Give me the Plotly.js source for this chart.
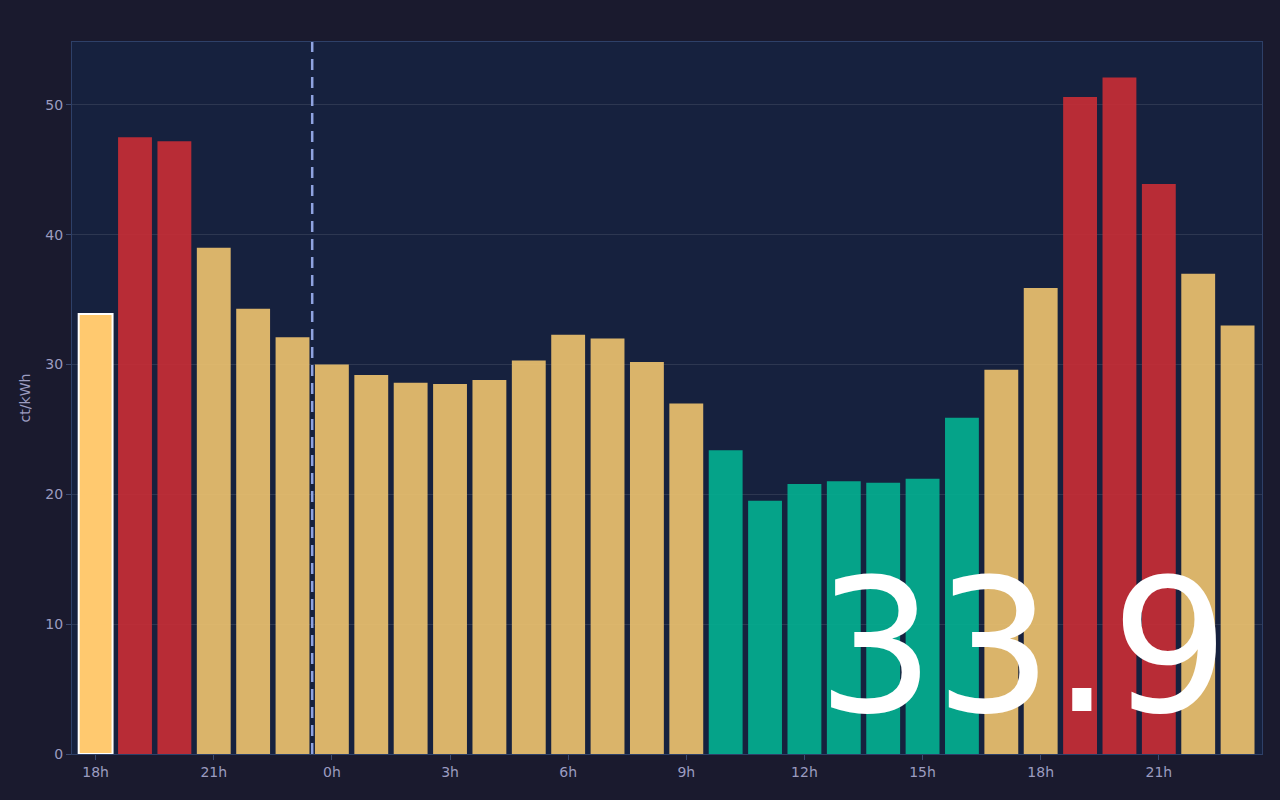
<!DOCTYPE html>
<html>
<head>
<meta charset="utf-8">
<script src="https://cdn.plot.ly/plotly-3.0.1.min.js"></script>
<style>
html,body{margin:0;padding:0;background:#1a1a2e;}
#chart{width:1280px;height:800px;}
</style>
</head>
<body>
<div id="chart"></div>
<script>
// Hour labels for each bar (18h today .. 23h tomorrow)
const hours = [18,19,20,21,22,23,0,1,2,3,4,5,6,7,8,9,10,11,12,13,14,15,16,17,18,19,20,21,22,23];
// Price in ct/kWh
const prices = [33.9,47.5,47.2,39.0,34.3,32.1,30.0,29.2,28.6,28.5,28.8,30.3,32.3,32.0,30.2,27.0,23.4,19.5,20.8,21.0,20.9,21.2,25.9,29.6,35.9,50.6,52.1,43.9,37.0,33.0];
// Price level per bar: cur = current hour, high, mid, low
const levels = ["cur","high","high","mid","mid","mid","mid","mid","mid","mid","mid","mid","mid","mid","mid","mid","low","low","low","low","low","low","low","mid","mid","high","high","high","mid","mid"];
const tickIdx = [0,3,6,9,12,15,18,21,24,27];
const currentLabel = "33.9";
const nowMarker = 5.5;

const colorMap = {cur:"#ffc96f", high:"#ca2e35", mid:"#f0c46f", low:"#03b191"};
const xs = prices.map((_, i) => i);
const colors = levels.map(l => colorMap[l]);
const opac = levels.map(l => l === "cur" ? 1 : 0.9);
const lineW = levels.map(l => l === "cur" ? 2 : 0);

const trace = {
  type: "bar",
  x: xs,
  y: prices,
  marker: {color: colors, opacity: opac, line: {color: "#ffffff", width: lineW}},
  hoverinfo: "y"
};

const layout = {
  width: 1280, height: 800,
  paper_bgcolor: "#1a1a2e",
  plot_bgcolor: "#16213e",
  margin: {l: 72, r: 18, t: 42, b: 46},
  bargap: 0.14,
  showlegend: false,
  font: {family: "DejaVu Sans", color: "#9c9cc0", size: 14},
  xaxis: {
    range: [-0.6, 29.62],
    tickmode: "array",
    tickvals: tickIdx,
    ticktext: tickIdx.map(i => hours[i] + "h"),
    ticks: "outside", ticklen: 5, tickcolor: "#3a4a70",
    showgrid: false, zeroline: false,
    showline: true, linecolor: "#2e4068", mirror: true,
    tickfont: {size: 14, color: "#9c9cc0"}
  },
  yaxis: {
    autorange: true,
    rangemode: "tozero",
    dtick: 10,
    ticks: "outside", ticklen: 5, tickcolor: "#3a4a70",
    gridcolor: "rgba(255,255,255,0.1)",
    zeroline: false,
    showline: true, linecolor: "#2e4068", mirror: true,
    tickfont: {size: 14, color: "#9c9cc0"},
    title: {text: "ct/kWh", font: {size: 14, color: "#9c9cc0"}, standoff: 11}
  },
  shapes: [{
    type: "line", xref: "x", yref: "paper",
    x0: nowMarker, x1: nowMarker, y0: 0, y1: 1,
    line: {color: "#8fa3e0", width: 2.5, dash: "11px,7px"}
  }],
  annotations: [{
    xref: "paper", yref: "paper",
    x: 0.799, y: 0.15, xanchor: "center", yanchor: "middle",
    text: currentLabel, showarrow: false,
    font: {family: "DejaVu Sans", size: 185, color: "#ffffff"}
  }]
};

Plotly.newPlot("chart", [trace], layout, {displayModeBar: false, staticPlot: true});
</script>
</body>
</html>
